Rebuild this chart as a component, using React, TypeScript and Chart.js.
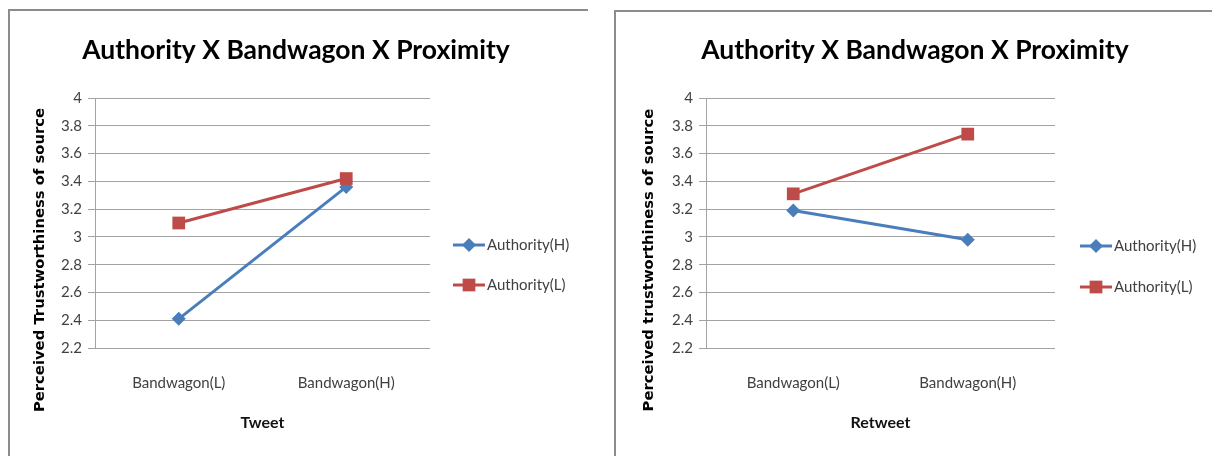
import React, { useEffect, useRef } from "react";
import { Chart, registerables } from "chart.js";

Chart.register(...registerables);

// ---- data ----
const categories = ["Bandwagon(L)", "Bandwagon(H)"];
const seriesLabels = ["Authority(H)", "Authority(L)"];
const yTickValues = [2.2, 2.4, 2.6, 2.8, 3, 3.2, 3.4, 3.6, 3.8, 4];

const tweetAuthorityHigh = [2.41, 3.36];
const tweetAuthorityLow = [3.1, 3.42];
const retweetAuthorityHigh = [3.19, 2.98];
const retweetAuthorityLow = [3.31, 3.74];

const chartTitle = "Authority X Bandwagon X Proximity";

// ---- styling ----
const BLUE = "#4a7ebb";
const RED = "#be4b48";
const GRID = "#a3a3a3";
const TEXT = "#404040";
const FONT = "Lato, 'Open Sans', sans-serif";
const CANVAS_H = 456;

// Rotated axis title placed freely beside the value axis
const sideTitlePlugin = {
  id: "sideTitle",
  afterDraw(chart: any, _args: any, opts: any) {
    const { ctx } = chart;
    ctx.save();
    ctx.translate(opts.x, opts.y);
    ctx.rotate(-Math.PI / 2);
    ctx.font = opts.font;
    ctx.fillStyle = opts.color;
    ctx.textAlign = "center";
    ctx.textBaseline = "middle";
    ctx.fillText(opts.text, 0, 0);
    ctx.restore();
  },
};

// Legend drawn to the right of the plot: line sample with marker, then label
const sideLegendPlugin = {
  id: "sideLegend",
  afterDraw(chart: any, _args: any, opts: any) {
    const { ctx, chartArea } = chart;
    const x0 = chartArea.right + opts.offset;
    chart.data.datasets.forEach((ds: any, i: number) => {
      const y = opts.rows[i];
      ctx.save();
      ctx.strokeStyle = ds.borderColor;
      ctx.lineWidth = ds.borderWidth;
      ctx.beginPath();
      ctx.moveTo(x0, y);
      ctx.lineTo(x0 + opts.lineLength, y);
      ctx.stroke();
      const cx = x0 + opts.lineLength / 2;
      const r = ds.pointRadius;
      ctx.fillStyle = ds.pointBackgroundColor;
      ctx.beginPath();
      if (ds.pointStyle === "rectRot") {
        ctx.moveTo(cx, y - r);
        ctx.lineTo(cx + r, y);
        ctx.lineTo(cx, y + r);
        ctx.lineTo(cx - r, y);
        ctx.closePath();
      } else {
        const h = Math.SQRT1_2 * r;
        ctx.rect(cx - h, y - h, 2 * h, 2 * h);
      }
      ctx.fill();
      ctx.font = opts.font;
      ctx.fillStyle = opts.color;
      ctx.textAlign = "left";
      ctx.textBaseline = "middle";
      ctx.fillText(ds.label, x0 + opts.lineLength + 2, y);
      ctx.restore();
    });
  },
};

type PanelCfg = {
  left: number;
  width: number;
  plotLeft: number;
  rightGap: number;
  xTitle: string;
  yTitle: string;
  yTitleX: number;
  yTitleY: number;
  legendOffset: number;
  legendRows: number[];
  high: number[];
  low: number[];
};

function Panel({ cfg }: { cfg: PanelCfg }) {
  const ref = useRef<HTMLCanvasElement | null>(null);

  useEffect(() => {
    if (!ref.current) return;
    const chart = new Chart(ref.current, {
      type: "line",
      data: {
        labels: categories,
        datasets: [
          {
            label: seriesLabels[0],
            data: cfg.high,
            borderColor: BLUE,
            backgroundColor: BLUE,
            pointBackgroundColor: BLUE,
            pointBorderColor: BLUE,
            pointStyle: "rectRot",
            pointRadius: 7,
            pointBorderWidth: 0,
            borderWidth: 3,
            order: 1,
          },
          {
            label: seriesLabels[1],
            data: cfg.low,
            borderColor: RED,
            backgroundColor: RED,
            pointBackgroundColor: RED,
            pointBorderColor: RED,
            pointStyle: "rect",
            pointRadius: 9,
            pointBorderWidth: 0,
            borderWidth: 3,
            order: 0,
          },
        ] as any,
      },
      options: {
        animation: false,
        responsive: false,
        devicePixelRatio: 1,
        layout: { padding: 0 },
        scales: {
          x: {
            type: "category",
            offset: true,
            grid: { display: false, drawTicks: false },
            border: { display: false },
            ticks: {
              color: TEXT,
              font: { family: FONT, size: 15 },
              padding: 26,
              maxRotation: 0,
              autoSkip: false,
            },
            title: {
              display: true,
              text: cfg.xTitle,
              color: "#111",
              font: { family: FONT, size: 16, weight: "bold" },
              padding: { top: 0, bottom: 24 },
            },
            afterFit: (s: any) => {
              s.height = 108;
            },
          },
          y: {
            type: "linear",
            position: "left",
            min: 2.2,
            max: 4,
            afterBuildTicks: (s: any) => {
              s.ticks = yTickValues.map((v) => ({ value: v }));
            },
            ticks: {
              color: TEXT,
              font: { family: FONT, size: 15 },
              padding: 6,
              callback: (v: any) => String(v),
            },
            grid: { color: GRID, lineWidth: 1, tickLength: 7, drawTicks: true },
            border: { display: true, color: GRID, width: 1 },
            afterFit: (s: any) => {
              s.width = cfg.plotLeft;
            },
          },
          spacer: {
            type: "linear",
            position: "right",
            display: true,
            grid: { display: false, drawTicks: false },
            border: { display: false },
            ticks: { display: false },
            afterFit: (s: any) => {
              s.width = cfg.rightGap;
            },
          },
        } as any,
        plugins: {
          legend: { display: false },
          tooltip: { enabled: false },
          title: {
            display: true,
            text: chartTitle,
            color: "#000",
            font: { family: FONT, size: 26.5, weight: "bold" },
            padding: { top: 35, bottom: 31.2 },
          },
          sideTitle: {
            text: cfg.yTitle,
            x: cfg.yTitleX,
            y: cfg.yTitleY,
            font: "bold 14.8px 'DejaVu Sans'",
            color: "#000",
          },
          sideLegend: {
            offset: cfg.legendOffset,
            rows: cfg.legendRows,
            lineLength: 32,
            font: `15px ${FONT}`,
            color: TEXT,
          },
        } as any,
      },
      plugins: [sideTitlePlugin, sideLegendPlugin],
    });
    return () => chart.destroy();
  }, [cfg]);

  return (
    <canvas
      ref={ref}
      width={cfg.width}
      height={CANVAS_H}
      style={{ position: "absolute", left: cfg.left, top: 0, width: cfg.width, height: CANVAS_H }}
    />
  );
}

const tweetPanel: PanelCfg = {
  left: 0,
  width: 592,
  plotLeft: 95,
  rightGap: 162,
  xTitle: "Tweet",
  yTitle: "Perceived Trustworthiness of source",
  yTitleX: 40,
  yTitleY: 260,
  legendOffset: 23,
  legendRows: [245, 285],
  high: tweetAuthorityHigh,
  low: tweetAuthorityLow,
};

const retweetPanel: PanelCfg = {
  left: 620,
  width: 590,
  plotLeft: 86,
  rightGap: 155,
  xTitle: "Retweet",
  yTitle: "Perceived trustworthiness of source",
  yTitleX: 29,
  yTitleY: 260,
  legendOffset: 25,
  legendRows: [246, 287],
  high: retweetAuthorityHigh,
  low: retweetAuthorityLow,
};

export default function App() {
  const frame = "2px solid #8c8c8c";
  return (
    <div
      style={{
        position: "absolute",
        left: 0,
        top: 0,
        width: 1212,
        height: CANVAS_H,
        overflow: "hidden",
        background: "#fff",
      }}
    >
      <div
        style={{
          position: "absolute",
          left: 8,
          top: 9,
          width: 578,
          height: 460,
          borderTop: frame,
          borderLeft: frame,
        }}
      />
      <div
        style={{
          position: "absolute",
          left: 614,
          top: 10,
          width: 700,
          height: 460,
          borderTop: frame,
          borderLeft: frame,
        }}
      />
      <Panel cfg={tweetPanel} />
      <Panel cfg={retweetPanel} />
    </div>
  );
}
